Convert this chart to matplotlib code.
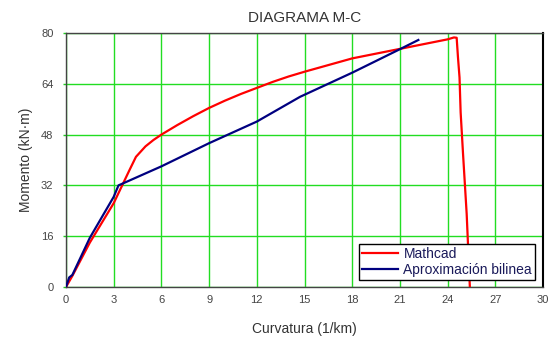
import matplotlib
matplotlib.use("Agg")
import matplotlib.pyplot as plt

plt.rcParams['font.family'] = ['Liberation Sans', 'DejaVu Sans']

# Mathcad moment-curvature curve
mathcad_curv = [0.0, 0.4, 1.5, 3.0, 4.0, 4.4, 5.0, 5.5, 6.0, 7.0, 8.0, 9.0, 10.0, 11.0,
                12.0, 13.0, 14.0, 15.0, 16.0, 17.0, 18.0, 19.0, 20.0, 21.0, 22.0, 23.0,
                24.0, 24.4, 24.57, 24.65, 24.75, 24.82, 24.97, 25.2, 25.4]
mathcad_mom = [0.0, 3.5, 14.0, 26.4, 36.9, 41.0, 44.3, 46.3, 48.0, 51.0, 53.8, 56.4, 58.7, 60.8,
               62.7, 64.6, 66.3, 67.8, 69.2, 70.6, 72.0, 73.0, 74.0, 75.0, 76.0, 77.0,
               78.0, 78.6, 78.5, 72.5, 66.0, 55.0, 42.0, 23.0, 0.0]

# Bilinear approximation
bilin_curv = [0.0, 0.2, 0.4, 1.5, 3.0, 3.3, 6.0, 9.0, 12.0, 14.72, 18.0, 21.0, 22.16]
bilin_mom = [0.0, 3.0, 3.8, 15.5, 28.4, 32.0, 38.0, 45.3, 52.1, 59.9, 67.5, 74.9, 77.8]

xticks = [0, 3, 6, 9, 12, 15, 18, 21, 24, 27, 30]
yticks = [0, 16, 32, 48, 64, 80]

fig = plt.figure(figsize=(5.58, 3.38), dpi=100)
ax = fig.add_axes([66/558, 51/338, 477/558, 254/338])

ax.plot(mathcad_curv, mathcad_mom, color='#ff0000', lw=1.6, label='Mathcad', zorder=3)
ax.plot(bilin_curv, bilin_mom, color='#000080', lw=1.6, label='Aproximación bilinea', zorder=4)

ax.set_xlim(0, 30)
ax.set_ylim(0, 80)
ax.set_xticks(xticks)
ax.set_yticks(yticks)
ax.grid(True, color='#22dd22', lw=1.0)
ax.set_axisbelow(True)
ax.tick_params(axis='x', length=0, labelsize=8, labelcolor='#444444', pad=6)
ax.tick_params(axis='y', length=2, width=1, color='#22cc22', labelsize=8,
               labelcolor='#444444', pad=7)
for s in ax.spines.values():
    s.set_color('#444444')
    s.set_linewidth(1.0)
ax.spines['right'].set_color('black')
ax.spines['right'].set_linewidth(1.5)

ax.set_title('DIAGRAMA M-C', fontsize=11, color='#333333', pad=8)
ax.set_xlabel('Curvatura (1/km)', fontsize=10, color='#333333', labelpad=12)
ax.set_ylabel('Momento (kN·m)', fontsize=10, color='#333333', labelpad=6)

leg = ax.legend(loc='lower right', bbox_to_anchor=(0.983, 0.028), fontsize=10,
                frameon=True, fancybox=False, borderpad=0.2, labelspacing=0.15,
                handlelength=2.6, handletextpad=0.4, borderaxespad=0)
leg.get_frame().set_edgecolor('black')
leg.get_frame().set_linewidth(1.0)
leg.get_frame().set_alpha(1)
for t in leg.get_texts():
    t.set_color('#1a1a5a')

fig.savefig('out.png', dpi=100)
